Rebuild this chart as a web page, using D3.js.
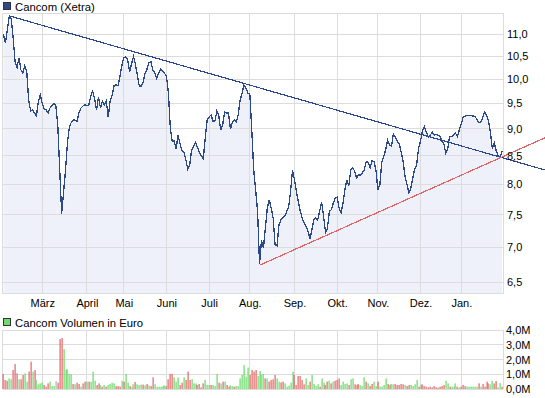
<!DOCTYPE html>
<html>
<head>
<meta charset="utf-8">
<script src="https://cdn.jsdelivr.net/npm/d3@7"></script>
<style>
  body { margin: 0; background: #fff; }
  svg { font-family: "Liberation Sans", Arial, sans-serif; font-size: 11px; }
</style>
</head>
<body>
<div id="chart"></div>
<script>
// Monatsbeschriftung und Index des ersten Handelstags im Monat
const months     = ["März", "April", "Mai", "Juni", "Juli", "Aug.", "Sep.", "Okt.", "Nov.", "Dez.", "Jan."];
const monthStart = [20, 43, 62, 84, 106, 127, 150, 172, 193, 215, 236];

const priceTicks = [6.5, 7.0, 7.5, 8.0, 8.5, 9.0, 9.5, 10.0, 10.5, 11.0];
const volTicks   = [0, 1, 2, 3, 4];   // Mio. Euro

// Schlusskurse, ein Wert pro Handelstag (Feb. bis Jan.)
const close = [
  11.00,10.80,11.10,11.44,11.37,10.91,10.38,10.25,10.47,10.20,
  10.13,10.29,10.16,9.57,9.35,9.37,9.31,9.25,9.55,9.67,
  9.50,9.39,9.37,9.31,9.41,9.45,9.50,9.45,9.08,8.25,
  7.52,7.88,8.25,8.75,9.04,9.13,9.17,9.17,9.15,9.33,
  9.41,9.45,9.47,9.45,9.47,9.65,9.75,9.59,9.37,9.63,
  9.41,9.55,9.47,9.55,9.23,9.55,9.67,9.86,9.88,9.86,
  10.05,10.29,10.47,10.49,10.42,10.16,10.33,10.49,10.33,10.09,
  9.86,9.86,9.94,10.13,10.22,10.36,10.38,10.20,10.13,10.02,
  10.13,10.22,10.18,10.13,10.07,9.73,9.02,8.77,8.77,8.63,
  8.88,8.72,8.59,8.57,8.43,8.27,8.34,8.61,8.68,8.74,
  8.65,8.57,8.50,8.45,8.82,9.17,9.23,9.27,9.15,9.15,
  9.35,9.25,8.98,9.08,9.33,9.31,9.31,9.00,9.12,9.17,
  9.13,9.27,9.57,9.71,9.88,9.81,9.71,9.69,8.98,8.25,
  7.91,7.55,6.76,7.11,6.99,7.29,7.61,7.74,7.61,7.45,
  7.04,7.02,7.34,7.42,7.45,7.48,7.55,7.63,7.88,8.25,
  8.08,7.88,7.71,7.56,7.45,7.37,7.32,7.24,7.13,7.27,
  7.43,7.45,7.42,7.56,7.71,7.48,7.23,7.29,7.56,7.58,
  7.69,7.77,7.79,7.61,7.53,7.69,7.91,8.08,7.97,8.25,
  8.29,8.23,8.11,8.16,8.16,8.20,8.25,8.40,8.38,8.29,
  8.41,8.40,8.25,7.91,7.99,8.38,8.48,8.61,8.79,8.70,
  8.68,8.90,8.85,8.77,8.72,8.57,8.40,8.13,8.00,7.86,
  7.94,8.11,8.27,8.34,8.65,8.77,8.98,9.04,8.94,8.85,
  8.88,8.94,8.88,8.90,8.88,8.86,8.77,8.72,8.55,8.63,
  8.86,8.86,8.88,8.92,8.86,8.98,9.10,9.23,9.25,9.26,
  9.26,9.26,9.25,9.24,9.19,9.12,9.12,9.21,9.33,9.27,
  9.15,8.94,8.63,8.74,8.59,8.50,8.48,8.59
];

// Umsatz in Mio. Euro pro Handelstag
const volume = [
  1.02,0.61,0.56,0.72,0.66,1.29,1.69,1.06,0.66,0.66,
  0.95,1.06,0.50,1.18,1.85,1.18,1.29,0.61,0.32,0.38,
  0.43,0.27,0.16,0.38,0.50,0.20,0.20,0.54,0.43,3.39,
  3.46,2.71,1.29,1.36,1.02,1.00,0.34,0.32,0.43,0.34,
  0.16,0.38,0.50,0.50,0.50,0.50,1.18,0.56,0.27,0.38,
  0.27,0.16,0.27,0.16,0.27,0.34,0.43,0.38,0.20,0.20,
  0.16,0.56,0.50,1.02,0.43,0.20,0.11,0.32,0.48,0.32,
  0.27,0.30,0.30,0.25,0.34,0.25,0.20,0.79,0.32,0.15,
  0.15,0.15,0.20,0.25,0.20,0.66,1.02,1.02,0.79,0.50,
  0.79,0.27,0.43,0.79,0.61,1.18,0.61,0.66,0.38,0.38,
  0.27,0.34,0.11,0.38,0.61,0.27,0.27,0.27,0.27,0.20,
  1.02,0.43,0.38,0.50,0.50,0.27,0.16,0.25,0.20,0.16,
  0.20,0.20,0.72,0.95,1.62,0.84,1.45,0.95,1.29,1.18,
  1.29,0.88,1.23,0.95,1.02,0.72,0.72,0.50,0.61,0.66,
  0.95,0.72,0.50,0.45,0.50,0.38,0.16,0.23,0.43,1.18,
  0.95,0.27,0.88,0.88,0.61,0.32,0.72,0.27,0.50,0.95,
  0.34,0.20,0.32,0.16,0.72,0.43,0.27,0.50,0.56,0.38,
  0.50,0.56,0.61,0.72,0.27,0.50,0.34,0.38,0.27,0.66,
  0.72,0.32,0.27,0.34,0.27,0.20,0.79,0.50,0.38,0.20,
  0.34,0.50,0.20,0.50,0.16,0.16,0.27,0.72,0.34,0.27,
  0.34,0.32,0.34,0.27,0.27,0.34,0.32,0.27,0.20,0.27,
  0.27,0.20,0.32,0.61,0.16,0.27,0.32,0.20,0.16,0.11,
  0.16,0.11,0.20,0.11,0.09,0.16,0.20,0.27,0.56,0.38,
  0.16,0.16,0.16,0.38,0.16,0.11,0.16,0.27,0.20,0.16,
  0.16,0.16,0.16,0.16,0.16,0.38,0.16,0.34,0.16,0.50,
  0.38,0.32,0.56,0.38,0.54,0.11,0.40,0.15
];

// Tendenz je Tag: u = gestiegen, d = gefallen, n = unverändert
const tendency = (
  "ddduudddud duudduduuu uddduuundd duuuuududd udduduuudd " +
  "ududuuuudd duduuduudu uudududduu uuuudddduu udduddduuu " +
  "dddduuuduu udududduud uuuuuuuddd duuuududdd duudduuuuu " +
  "dddddduudu uuuduuddud uddduuuudu uddduuudud duuduuuudd " +
  "uudddddudd uuuududddd dddddddduu duuududddu uuuuududdd duudduud"
).replace(/ /g, "");

// Trendlinien: [Tagesindex, Kurs]
const resistance = [[3, 11.44], [279, 8.25]];
const support    = [[132, 6.74], [279, 8.83]];

const W = 545, H = 398;
const plot = { left: 2.5, right: 503, top: 13, bottom: 293 };
const vol  = { top: 330, bottom: 389 };

const svg = d3.select("#chart").append("svg")
  .attr("width", W).attr("height", H);

const x = d3.scaleLinear()
  .domain([-0.5, close.length - 0.5])
  .range([plot.left, plot.right]);

const y = d3.scaleLog()
  .domain([6.354, 11.51])
  .range([plot.bottom, plot.top]);

const yv = d3.scaleLinear()
  .domain([0, 4])
  .range([vol.bottom, vol.top]);

const fmt = d => d3.format(".1f")(d).replace(".", ",");
const gridColor = "#dcdcdc";

// ---------- Kurs-Panel ----------
const area = d3.area()
  .x((d, i) => x(i))
  .y0(plot.bottom)
  .y1(d => y(d));

svg.append("path")
  .datum(close)
  .attr("d", area)
  .attr("fill", "#eef1fa");

// Gitter
svg.append("g")
  .selectAll("line")
  .data(priceTicks)
  .join("line")
    .attr("x1", plot.left).attr("x2", plot.right)
    .attr("y1", d => y(d)).attr("y2", d => y(d))
    .attr("stroke", gridColor)
    .attr("shape-rendering", "crispEdges");

svg.append("g")
  .selectAll("line")
  .data(monthStart)
  .join("line")
    .attr("x1", d => x(d)).attr("x2", d => x(d))
    .attr("y1", plot.top).attr("y2", plot.bottom)
    .attr("stroke", gridColor)
    .attr("shape-rendering", "crispEdges");

svg.append("rect")
  .attr("x", plot.left).attr("y", plot.top)
  .attr("width", plot.right - plot.left).attr("height", plot.bottom - plot.top)
  .attr("fill", "none").attr("stroke", gridColor)
  .attr("shape-rendering", "crispEdges");

// Kurslinie (pixelig wie im Original)
const line = d3.line()
  .x((d, i) => x(i))
  .y(d => y(d));

svg.append("path")
  .datum(close)
  .attr("d", line)
  .attr("fill", "none")
  .attr("stroke", "#2c4a8a")
  .attr("stroke-width", 1.3)
  .attr("shape-rendering", "crispEdges");

// Trendlinien
const trend = d3.line().x(d => x(d[0])).y(d => y(d[1]));
svg.append("path").attr("d", trend(resistance))
  .attr("fill", "none").attr("stroke", "#2c4a8a").attr("stroke-width", 1.2)
  .attr("shape-rendering", "crispEdges");
svg.append("path").attr("d", trend(support))
  .attr("fill", "none").attr("stroke", "#e06464").attr("stroke-width", 1.2)
  .attr("shape-rendering", "crispEdges");

// Achsen
const yAxis = d3.axisRight(y).tickValues(priceTicks).tickFormat(fmt).tickSize(0).tickPadding(4);
const gy = svg.append("g").attr("transform", `translate(${plot.right},0)`).call(yAxis);
gy.select(".domain").remove();

const xAxis = d3.axisBottom(x).tickValues(monthStart).tickFormat((d, i) => months[i]).tickSize(0).tickPadding(6);
const gx = svg.append("g").attr("transform", `translate(0,${plot.bottom})`).call(xAxis);
gx.select(".domain").remove();

svg.selectAll(".tick text")
  .attr("fill", "#000")
  .style("font-family", "'Liberation Sans', Arial, sans-serif")
  .style("font-size", "11px");

// Legende
function legend(yTop, color, label) {
  svg.append("rect")
    .attr("x", 3.5).attr("y", yTop + 0.5)
    .attr("width", 7).attr("height", 7)
    .attr("fill", color).attr("stroke", "#333")
    .attr("shape-rendering", "crispEdges");
  svg.append("text")
    .attr("x", 15).attr("y", yTop + 8.5)
    .style("font-size", "11.3px")
    .text(label);
}
legend(2, "#2c4a8a", "Cancom (Xetra)");
legend(318, "#6ddc6d", "Cancom Volumen in Euro");

// ---------- Umsatz-Panel ----------
svg.append("g")
  .selectAll("line")
  .data(volTicks)
  .join("line")
    .attr("x1", plot.left).attr("x2", plot.right)
    .attr("y1", d => yv(d)).attr("y2", d => yv(d))
    .attr("stroke", gridColor)
    .attr("shape-rendering", "crispEdges");

svg.append("g")
  .selectAll("line")
  .data(monthStart)
  .join("line")
    .attr("x1", d => x(d)).attr("x2", d => x(d))
    .attr("y1", vol.top).attr("y2", vol.bottom)
    .attr("stroke", gridColor)
    .attr("shape-rendering", "crispEdges");

svg.append("line")
  .attr("x1", plot.left).attr("x2", plot.left)
  .attr("y1", vol.top).attr("y2", vol.bottom)
  .attr("stroke", gridColor).attr("shape-rendering", "crispEdges");
svg.append("line")
  .attr("x1", plot.right).attr("x2", plot.right)
  .attr("y1", vol.top).attr("y2", vol.bottom)
  .attr("stroke", gridColor).attr("shape-rendering", "crispEdges");

const barColor = { u: "#66d966", d: "#e06464", n: "#b4b4b4" };
svg.append("g")
  .selectAll("rect")
  .data(volume)
  .join("rect")
    .attr("x", (d, i) => Math.round(x(i)) - 0.5)
    .attr("width", 1.2)
    .attr("y", d => yv(d))
    .attr("height", d => yv(0) - yv(d))
    .attr("fill", (d, i) => barColor[tendency[i]] || barColor.n);

const yvAxis = d3.axisRight(yv).tickValues(volTicks).tickFormat(d => fmt(d) + "M").tickSize(0).tickPadding(3);
const gyv = svg.append("g").attr("transform", `translate(${plot.right},0)`).call(yvAxis);
gyv.select(".domain").remove();
gyv.selectAll("text")
  .attr("fill", "#000")
  .style("font-family", "'Liberation Sans', Arial, sans-serif")
  .style("font-size", "11px");
</script>
</body>
</html>
